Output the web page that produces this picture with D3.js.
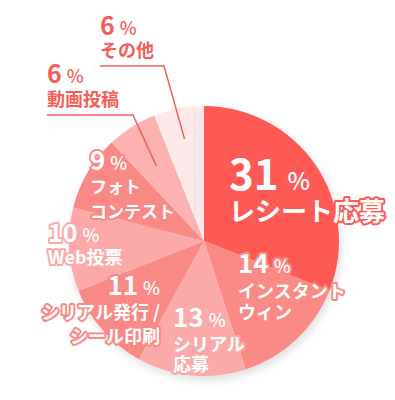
<!DOCTYPE html>
<html>
<head>
<meta charset="utf-8">
<script src="https://cdn.jsdelivr.net/npm/d3@7"></script>
<style>
  body { margin: 0; background: #fff; }
  svg { display: block; font-family: "Noto Sans CJK JP", "Noto Sans", sans-serif; }
</style>
</head>
<body>
<div id="chart"></div>
<script>
// data
const categories = ["レシート応募", "インスタントウィン", "シリアル応募", "シリアル発行 / シール印刷", "Web投票", "フォトコンテスト", "動画投稿", "その他"];
const labelLines = [["レシート応募"], ["インスタント", "ウィン"], ["シリアル", "応募"], ["シリアル発行 /", "シール印刷"], ["Web投票"], ["フォト", "コンテスト"], ["動画投稿"], ["その他"]];
const values = [31, 14, 13, 11, 10, 9, 6, 6];
const colors = ["#fd5a56", "#fa8a86", "#fbaaa9", "#f98985", "#fbaaa9", "#f98985", "#fbb2b0", "#fde9e9"];

const width = 395, height = 400;
const cx = 204, cy = 241, radius = 135;

// label placement (layout only)
const labelPos = [
  {x: 229, y: 190, anchor: "start", num: 42, pct: 24, txt: 26, first: 31, step: 26, inside: true},
  {x: 238, y: 273, anchor: "start", num: 26, pct: 18, txt: 18, first: 25, step: 21, inside: true},
  {x: 173, y: 327, anchor: "start", num: 26, pct: 18, txt: 18, first: 24, step: 20, inside: true},
  {x: 160, y: 295, anchor: "end", num: 26, pct: 18, txt: 18, first: 24, step: 24, inside: true},
  {x: 48, y: 242, anchor: "start", num: 25, pct: 18, txt: 18, first: 22, step: 21, inside: true},
  {x: 90, y: 170, anchor: "start", num: 26, pct: 18, txt: 17, first: 23, step: 25, inside: true},
  {x: 47, y: 83, anchor: "start", num: 25, pct: 18, txt: 18, first: 23, step: 21, inside: false, lineEnd: 133, lineY: 115, leaderR: 89},
  {x: 100, y: 35, anchor: "start", num: 25, pct: 18, txt: 18, first: 22, step: 21, inside: false, lineEnd: 164, lineY: 66, leaderR: 104}
];

const svg = d3.select("#chart").append("svg")
  .attr("width", width)
  .attr("height", height);

const defs = svg.append("defs");
const shadow = defs.append("filter").attr("id", "shadow")
  .attr("x", "-20%").attr("y", "-20%").attr("width", "140%").attr("height", "140%");
shadow.append("feDropShadow")
  .attr("dx", 2).attr("dy", 4).attr("stdDeviation", 4)
  .attr("flood-color", "#000").attr("flood-opacity", 0.13);

const pie = d3.pie().sort(null).value(d => d);
const arcs = pie(values);
const arc = d3.arc().innerRadius(0).outerRadius(radius);

const g = svg.append("g").attr("transform", `translate(${cx},${cy})`);

g.append("g").attr("filter", "url(#shadow)")
  .selectAll("path")
  .data(arcs)
  .enter()
  .append("path")
  .attr("d", arc)
  .attr("fill", (d, i) => colors[i]);

// leader lines for the small outside slices
const outColor = "#f45e59";
arcs.forEach((d, i) => {
  const p = labelPos[i];
  if (p.inside) return;
  const leaderArc = d3.arc().innerRadius(p.leaderR).outerRadius(p.leaderR);
  const c = leaderArc.centroid(d);
  svg.append("polyline")
    .attr("points", [[p.x, p.lineY], [p.lineEnd, p.lineY], [cx + c[0], cy + c[1]]].map(q => q.join(",")).join(" "))
    .attr("fill", "none")
    .attr("stroke", outColor)
    .attr("stroke-width", 1.5);
});

// labels: one text element per slice
const labels = svg.append("g");
values.forEach((v, i) => {
  const p = labelPos[i];
  const fill = p.inside ? "#fff" : outColor;
  const halo = p.inside ? colors[i] : "none";

  const t = labels.append("text")
    .attr("x", p.x)
    .attr("y", p.y)
    .attr("text-anchor", p.anchor)
    .attr("fill", fill)
    .attr("stroke", halo)
    .attr("stroke-width", 4)
    .attr("stroke-linejoin", "round")
    .style("paint-order", "stroke");
  t.append("tspan")
    .attr("font-size", p.num)
    .attr("font-weight", 700)
    .text(v);
  t.append("tspan")
    .attr("dx", p.num > 30 ? 9 : 5)
    .attr("font-size", p.pct)
    .attr("font-weight", 500)
    .text("%");

  labelLines[i].forEach((line, j) => {
    t.append("tspan")
      .attr("x", p.x)
      .attr("y", p.y + p.first + j * p.step)
      .attr("font-size", p.txt)
      .attr("font-weight", 700)
      .text(line);
  });
});
</script>
</body>
</html>
